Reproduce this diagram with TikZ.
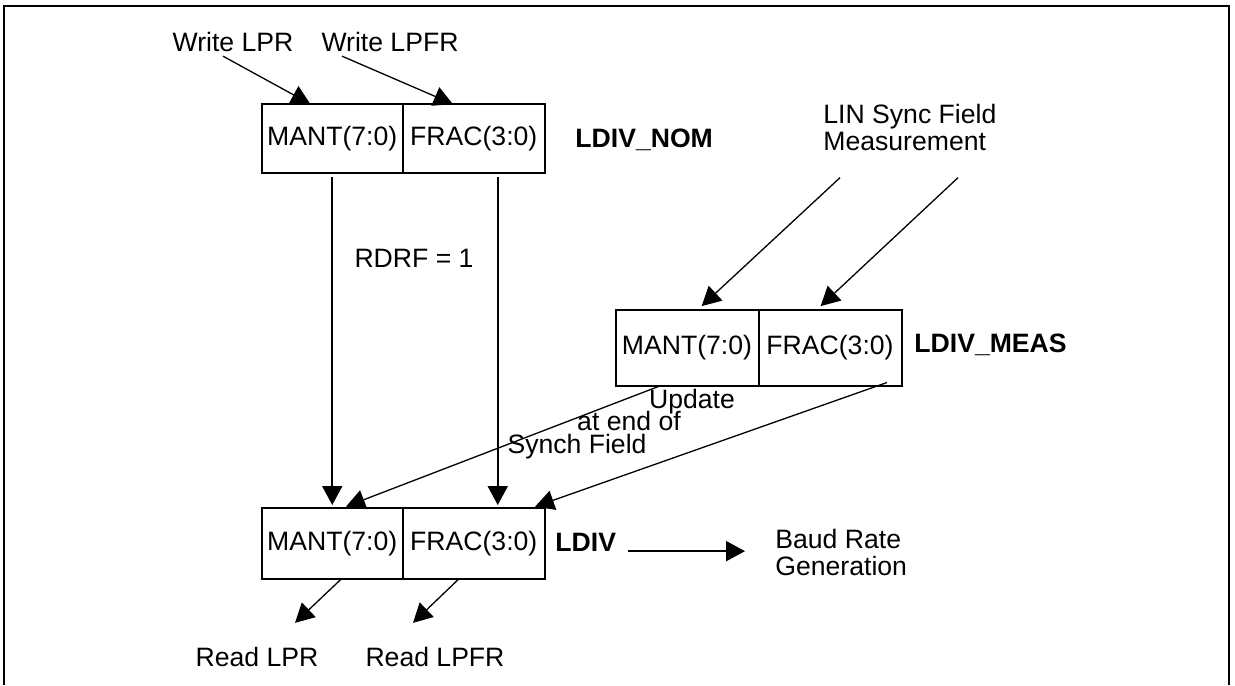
\documentclass[tikz,border=0pt]{standalone}
\usepackage{fontspec}
\setmainfont{Liberation Sans}
\usetikzlibrary{arrows.meta,positioning,calc}
\begin{document}
\begin{tikzpicture}[>={Triangle[length=9.5pt,width=10pt]}, x=0.5pt, y=-0.5pt,
		every node/.style={font=\fontsize{13.3}{13.5}\selectfont}]
			\tikzset{
				regcell/.style={draw, line width=1pt, outer sep=0pt, inner sep=0pt,
						minimum width=70.75pt, minimum height=35.5pt},
				lbl/.style={inner sep=2pt},
				regname/.style={inner sep=2pt, font=\fontsize{13.3}{13.5}\selectfont\bfseries},
				feed/.style={->, line width=0.65pt},
				load/.style={->, line width=1pt},
			}
			\useasboundingbox (0,0) rectangle (1235,685);
			\draw[line width=1.4pt] (4,685) |- (1229,6) -- (1229,685);
			% registers
			\node[regcell, minimum height=34.5pt] (nomM) at (332.25,138.5) {MANT(7:0)};
			\node[regcell, minimum height=34.5pt, right=0pt of nomM] (nomF) {FRAC(3:0)};
			\node[regcell, minimum width=71.5pt, minimum height=38pt] (measM) at (687,347.5) {MANT(7:0)};
			\node[regcell, minimum width=71.5pt, minimum height=38pt, right=0pt of measM] (measF) {FRAC(3:0)};
			\node[regcell] (ldivM) at (332.25,543.5) {MANT(7:0)};
			\node[regcell, right=0pt of ldivM] (ldivF) {FRAC(3:0)};
			% labels
			\node[lbl] (wlpr) at (233,42) {Write LPR};
			\node[lbl] (wlpfr) at (390,42) {Write LPFR};
			\node[regname, anchor=west] (nomname) at (571,140) {LDIV\_NOM};
			\node[lbl] (rdrf) at (414,258) {RDRF = 1};
			\node[lbl, align=left, anchor=west] (linsync) at (819,127) {LIN Sync Field\\Measurement};
			\node[regname, anchor=west] (measname) at (910,345) {LDIV\_MEAS};
			\node[lbl, anchor=base] (upd1) at (692,408) {Update};
			\node[lbl, anchor=base] (upd2) at (629,430) {at end of};
			\node[lbl, anchor=base] (upd3) at (577,453) {Synch Field};
			\node[regname, anchor=west] (ldivname) at (551,542) {LDIV};
			\node[lbl, align=left, anchor=west] (baud) at (771,552) {Baud Rate\\Generation};
			\node[lbl] (rlpr) at (257,657) {Read LPR};
			\node[lbl] (rlpfr) at (435,657) {Read LPFR};
			% connectors
			\draw[feed] ($(wlpr.south)+(-10,0)$) -- ($(nomM.north)+(-22,0)$);
			\draw[feed] ($(wlpfr.south)+(-48,0)$) -- ($(nomF.north)+(-21,0)$);
			\draw[load, shorten <=2pt, shorten >=1.5pt] (nomM.south) -- (ldivM.north);
			\draw[load, shorten <=2pt, shorten >=1.5pt] ($(nomF.south)+(24,0)$) -- ($(ldivF.north)+(24,0)$);
			\draw[feed, shorten >=2.5pt] ($(linsync.south west)+(21,23)$) -- ($(measM.north)+(11,0)$);
			\draw[feed, shorten >=2.5pt] ($(linsync.south west)+(139,23)$) -- ($(measF.north)+(-13,0)$);
			\draw[feed, shorten >=2pt] ($(measM.south)+(-26,0)$) -- ($(ldivM.north)+(10,0)$);
			\draw[feed, shorten >=2pt] ($(measF.south)+(57,-3)$) -- ($(ldivF.north)+(57.5,0)$);
			\draw[feed] ($(ldivM.south)+(9,0)$) -- ($(rlpr.north)+(38,-20)$);
			\draw[feed] ($(ldivF.south)+(-15,0)$) -- ($(rlpfr.north)+(-22,-20)$);
			\draw[load, shorten <=4pt, shorten >=13pt] (ldivname.base east) -- (ldivname.base east -| baud.west);
		\end{tikzpicture}
\end{document}
